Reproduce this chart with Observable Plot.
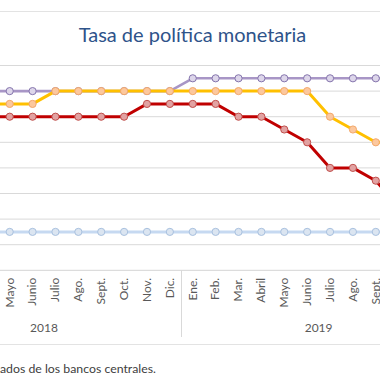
<!DOCTYPE html>
<html>
<head>
<meta charset="utf-8">
<script src="https://cdn.jsdelivr.net/npm/d3@7"></script>
<script src="https://cdn.jsdelivr.net/npm/@observablehq/plot@0.6"></script>
<style>
  body { margin: 0; background: #fff; }
  #chart svg { overflow: hidden; display: block; }
</style>
</head>
<body>
<div id="chart"></div>
<script>
// Month categories, Jan 2018 .. Dec 2019 (index = position on x)
const monthLabels = ["Ene.","Feb.","Mar.","Abril","Mayo","Junio","Julio","Ago.","Sept.","Oct.","Nov.","Dic.",
                     "Ene.","Feb.","Mar.","Abril","Mayo","Junio","Julio","Ago.","Sept.","Oct.","Nov.","Dic."];
const years = ["2018", "2019"];
// Series values from Abril 2018 (index 3) to Oct. 2019 (index 21)
const seriesStart = 3;
const purpleValues = [5.5,5.5,5.5,5.5,5.5,5.5,5.5,5.5,5.5, 5.75,5.75,5.75,5.75,5.75,5.75,5.75,5.75,5.75,5.75];
const orangeValues = [5.25,5.25,5.25,5.5,5.5,5.5,5.5,5.5,5.5, 5.5,5.5,5.5,5.5,5.5,5.5,5.0,4.75,4.5,4.5];
const redValues    = [5.0,5.0,5.0,5.0,5.0,5.0,5.0,5.25,5.25, 5.25,5.25,5.0,5.0,4.75,4.5,4.0,4.0,3.75,3.25];
const blueValues   = [2.75,2.75,2.75,2.75,2.75,2.75,2.75,2.75,2.75, 2.75,2.75,2.75,2.75,2.75,2.75,2.75,2.75,2.75,2.75];
const gridTicks = [2.5, 3, 3.5, 4, 4.5, 5, 5.5, 6];
// visible window of the (cropped) chart: Mayo 2018 .. Sept. 2019
const visibleFrom = 4, visibleTo = 20;

const rows = (vals) => vals.map((v, i) => ({i: seriesStart + i, v}));
const series = [
  {data: rows(blueValues),   line: "#c6d9f1", fill: "#dbe5f1", stroke: "#a9c1df", w: 3},
  {data: rows(purpleValues), line: "#a896c6", fill: "#ddd6ea", stroke: "#8575ad", w: 2.6},
  {data: rows(orangeValues), line: "#ffc000", fill: "#fcc89e", stroke: "#f3a86c", w: 3},
  {data: rows(redValues),    line: "#c00000", fill: "#e2a2a2", stroke: "#c0504d", w: 3}
];

const monthRows = monthLabels.map((label, i) => ({i, label}))
  .filter(d => d.i >= visibleFrom && d.i <= visibleTo);
const yearRows = years.map((label, k) => ({label, i: (k * 12 + k * 12 + 11) / 2}));
const yearBreaks = [11.5];

const font = "Lato, 'Open Sans', sans-serif";

const marks = [
  Plot.ruleY(gridTicks, {stroke: "#d9d9d9", strokeWidth: 1}),
  Plot.ruleY([2], {stroke: "#d4d4d4", strokeWidth: 1}),
];
for (const s of series) {
  marks.push(Plot.line(s.data, {x: "i", y: "v", stroke: s.line, strokeWidth: s.w, curve: "linear"}));
  marks.push(Plot.dot(s.data, {x: "i", y: "v", r: 3.6, fill: s.fill, stroke: s.stroke, strokeWidth: 1}));
}
marks.push(
  Plot.text(monthRows, {x: "i", y: 2, text: "label", rotate: -90, textAnchor: "end", lineAnchor: "middle",
    dy: 7.5, fill: "#595959", fontSize: 12}),
  Plot.text(yearRows, {x: "i", y: 2, text: "label", lineAnchor: "middle", dy: 58, fill: "#595959", fontSize: 12})
);

const plot = Plot.plot({
  width: 380,
  height: 380,
  marginTop: 0, marginBottom: 0, marginLeft: 0, marginRight: 0,
  style: {fontFamily: font, background: "#fff", overflow: "hidden"},
  x: {type: "linear", domain: [visibleFrom, visibleTo], range: [9.2, 375.3], axis: null},
  y: {type: "linear", domain: [2, 6], range: [269.8, 65], axis: null},
  marks
});

const svg = d3.select(plot);
const xs = plot.scale("x");
// decorative frame lines
svg.append("line").attr("x1", 0).attr("x2", 380).attr("y1", 11.5).attr("y2", 11.5)
  .attr("stroke", "#e3e3e3").attr("stroke-width", 1);
svg.append("line").attr("x1", 0).attr("x2", 380).attr("y1", 344.5).attr("y2", 344.5)
  .attr("stroke", "#e3e3e3").attr("stroke-width", 1);
for (const b of yearBreaks) {
  const bx = Math.round(xs.apply(b)) + 0.5;
  svg.append("line").attr("x1", bx).attr("x2", bx).attr("y1", 270).attr("y2", 337)
    .attr("stroke", "#d9d9d9").attr("stroke-width", 1);
}
// title & caption
svg.append("text").attr("x", 192.5).attr("y", 42).attr("text-anchor", "middle")
  .attr("font-family", font).attr("font-size", 20).attr("fill", "#2e538a")
  .text("Tasa de política monetaria");
svg.append("text").attr("x", 0).attr("y", 373).attr("text-anchor", "start")
  .attr("font-family", font).attr("font-size", 12.3).attr("fill", "#404040")
  .text("ados de los bancos centrales.");

document.getElementById("chart").appendChild(plot);
</script>
</body>
</html>
